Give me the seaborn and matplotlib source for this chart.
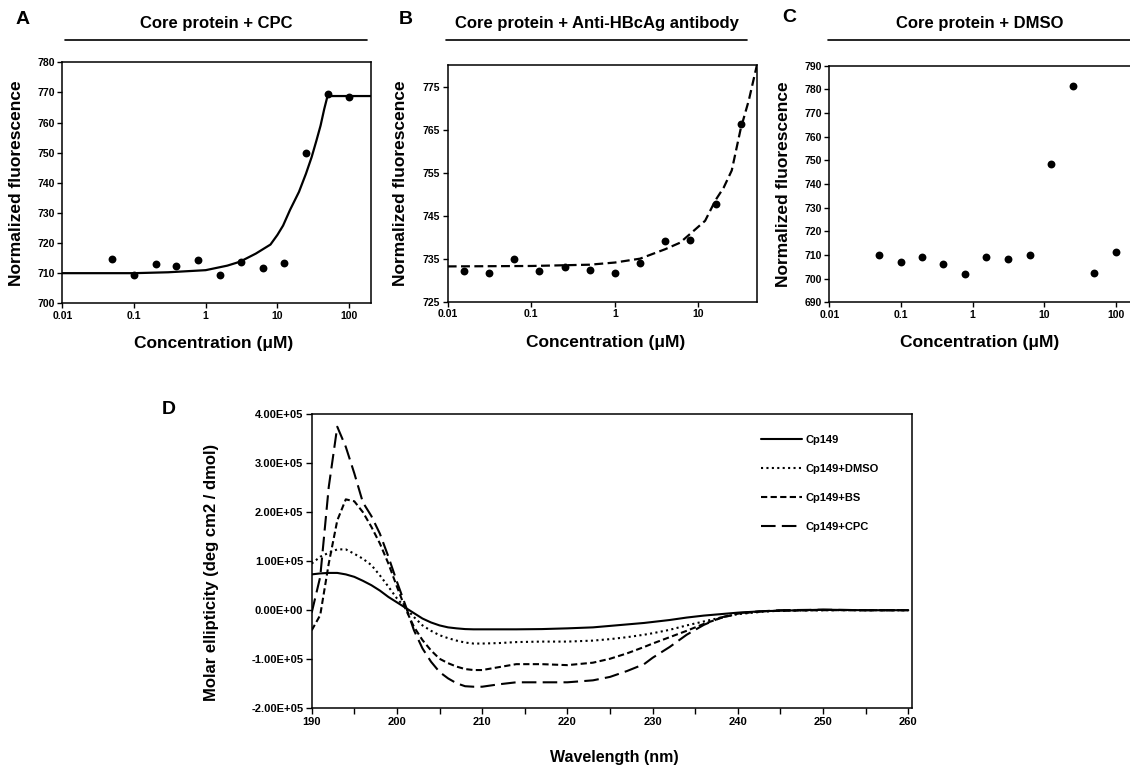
import matplotlib
matplotlib.use("Agg")
import numpy as np
import pandas as pd
import seaborn as sns
import matplotlib.pyplot as plt
from matplotlib.lines import Line2D
from matplotlib.ticker import FuncFormatter, NullLocator, FixedLocator, MultipleLocator

# ---------------- data ----------------
# Panel A: Core protein + CPC
conc_a = [0.05, 0.1, 0.2, 0.39, 0.78, 1.56, 3.125, 6.25, 12.5, 25, 50, 100]
fluo_a = [714.8, 709.3, 712.9, 712.4, 714.4, 709.5, 713.8, 711.8, 713.4, 750.0, 769.6, 768.5]
fit_a_x = [0.01, 0.1, 0.3, 1, 2, 3, 5, 8, 10, 12, 15, 20, 25, 30, 35, 40, 45, 50, 100, 200]
fit_a_y = [710.0, 710.0, 710.3, 711.0, 712.5, 713.8, 716.5, 719.5, 722.7, 725.8, 731.0, 737.0, 743.0, 748.5, 754.0, 759.0, 764.5, 768.8, 768.8, 768.8]

# Panel B: Core protein + Anti-HBcAg antibody
conc_b = [0.015625, 0.03125, 0.0625, 0.125, 0.25, 0.5, 1, 2, 4, 8, 16, 32]
fluo_b = [732.1, 731.7, 735.0, 732.1, 733.1, 732.3, 731.7, 733.9, 739.0, 739.4, 747.6, 766.3]
fit_b_x = [0.01, 0.1, 0.5, 1, 2, 4, 6, 8, 12, 16, 20, 25, 32, 40, 50]
fit_b_y = [733.2, 733.3, 733.6, 734.1, 735.0, 737.2, 738.7, 740.8, 743.8, 748.6, 751.5, 755.5, 765.2, 771.8, 780.0]

# Panel C: Core protein + DMSO
conc_c = [0.05, 0.1, 0.2, 0.39, 0.78, 1.56, 3.125, 6.25, 12.5, 25, 50, 100]
fluo_c = [709.9, 707.0, 709.3, 706.3, 702.1, 709.3, 708.2, 709.9, 748.5, 781.3, 702.4, 711.1]

# Panel D: CD spectra (x 1e5)
wavelength = [190, 191, 192, 193, 194, 195, 196, 197, 198, 199, 200, 201, 202, 203, 204, 205, 206, 207, 208, 209,
              210, 212, 214, 217, 220, 223, 225, 227, 229, 230, 232, 234, 236, 238, 240, 243, 245, 250, 255, 260]
cp149 = [0.73, 0.75, 0.76, 0.76, 0.73, 0.68, 0.60, 0.51, 0.40, 0.27, 0.16, 0.05, -0.06, -0.17, -0.25, -0.31, -0.35, -0.37, -0.385, -0.39,
         -0.39, -0.39, -0.39, -0.385, -0.37, -0.35, -0.32, -0.29, -0.26, -0.24, -0.20, -0.15, -0.11, -0.08, -0.05, -0.02, -0.01, 0.01, 0.0, 0.0]
cp149_dmso = [0.95, 1.09, 1.17, 1.24, 1.24, 1.15, 1.05, 0.92, 0.71, 0.48, 0.24, 0.05, -0.14, -0.31, -0.42, -0.51, -0.57, -0.62, -0.66, -0.68,
              -0.68, -0.67, -0.65, -0.64, -0.64, -0.62, -0.59, -0.55, -0.50, -0.47, -0.40, -0.31, -0.23, -0.15, -0.08, -0.03, -0.01, 0.0, 0.0, 0.0]
cp149_bs = [-0.41, -0.10, 0.95, 1.83, 2.26, 2.22, 2.00, 1.70, 1.36, 0.95, 0.48, 0.03, -0.34, -0.61, -0.82, -0.99, -1.08, -1.15, -1.20, -1.22,
            -1.22, -1.16, -1.10, -1.10, -1.12, -1.07, -0.99, -0.88, -0.75, -0.68, -0.55, -0.42, -0.28, -0.16, -0.07, -0.02, -0.01, 0.0, 0.0, 0.0]
cp149_cpc = [-0.05, 0.68, 2.51, 3.74, 3.33, 2.79, 2.20, 1.92, 1.56, 1.09, 0.58, 0.10, -0.41, -0.78, -1.05, -1.26, -1.39, -1.49, -1.55, -1.56,
             -1.56, -1.51, -1.47, -1.47, -1.47, -1.43, -1.36, -1.24, -1.10, -0.97, -0.75, -0.50, -0.30, -0.15, -0.06, -0.02, 0.0, 0.01, 0.0, 0.0]
series_names = ["Cp149", "Cp149+DMSO", "Cp149+BS", "Cp149+CPC"]

# ---------------- style ----------------
sns.set_theme(style="ticks")
plt.rcParams["font.family"] = ["Liberation Sans", "DejaVu Sans"]
plt.rcParams["font.weight"] = "bold"
plt.rcParams["axes.labelweight"] = "bold"
plt.rcParams["axes.linewidth"] = 1.1
plt.rcParams["xtick.direction"] = "out"
plt.rcParams["ytick.direction"] = "out"
for key in ["text.color", "axes.labelcolor", "xtick.color", "ytick.color", "axes.edgecolor"]:
    plt.rcParams[key] = "black"

W, H = 1130, 766
fig = plt.figure(figsize=(W / 100, H / 100), dpi=100)
fig.patch.set_facecolor("white")


def add_ax(l, t, r, b):
    return fig.add_axes([l / W, 1 - b / H, (r - l) / W, (b - t) / H])


def style_conc_axis(ax, xmax, ylim, yticks):
    ax.set_xscale("log")
    ax.set_xlim(0.01, xmax)
    ax.set_ylim(*ylim)
    ax.xaxis.set_major_locator(FixedLocator([0.01, 0.1, 1, 10, 100]))
    ax.xaxis.set_minor_locator(NullLocator())
    ax.xaxis.set_major_formatter(FuncFormatter(lambda v, p: "%g" % v))
    ax.set_yticks(yticks)
    ax.tick_params(axis="both", labelsize=7.5, length=3.5, width=1.0, pad=2,
                   colors="black", labelcolor="black")
    for lab in ax.get_xticklabels() + ax.get_yticklabels():
        lab.set_fontweight("bold")
    for sp in ax.spines.values():
        sp.set_visible(True)
        sp.set_linewidth(1.1)
        sp.set_color("black")
    ax.set_xlabel("Concentration (μM)", fontsize=12.5, fontweight="bold", color="black")
    ax.set_ylabel("Normalized fluorescence", fontsize=12.5, fontweight="bold", color="black")
    ax.grid(False)


# ---------------- panel A ----------------
axA = add_ax(62.3, 62.3, 371, 303.3)
sns.lineplot(x=fit_a_x, y=fit_a_y, ax=axA, color="black", lw=1.6, sort=False, errorbar=None)
sns.scatterplot(x=conc_a, y=fluo_a, ax=axA, color="black", s=32, edgecolor="black", linewidth=0, zorder=3)
style_conc_axis(axA, 202, (700, 780), list(range(700, 781, 10)))
axA.xaxis.set_label_coords(0.49, -0.136)
axA.yaxis.set_label_coords(-0.124, 0.5)

# ---------------- panel B ----------------
axB = add_ax(447.7, 65, 756.7, 301.7)
sns.lineplot(x=fit_b_x, y=fit_b_y, ax=axB, color="black", lw=1.6, sort=False, errorbar=None)
axB.lines[0].set_dashes((4, 2))
sns.scatterplot(x=conc_b, y=fluo_b, ax=axB, color="black", s=32, edgecolor="black", linewidth=0, zorder=3)
style_conc_axis(axB, 49.7, (725, 780), list(range(725, 776, 10)))
axB.xaxis.set_label_coords(0.51, -0.141)
axB.yaxis.set_label_coords(-0.128, 0.5)

# ---------------- panel C ----------------
axC = add_ax(829.3, 65.7, 1137.7, 302.3)
sns.scatterplot(x=conc_c, y=fluo_c, ax=axC, color="black", s=32, edgecolor="black", linewidth=0, zorder=3)
style_conc_axis(axC, 202, (690, 790), list(range(690, 791, 10)))
axC.xaxis.set_label_coords(0.489, -0.138)
axC.yaxis.set_label_coords(-0.124, 0.5)

# titles, rules and panel letters
for (cx, txt, x0, x1) in [(216, "Core protein + CPC", 65, 367),
                          (597, "Core protein + Anti-HBcAg antibody", 445.7, 746.7),
                          (980, "Core protein + DMSO", 828, 1135)]:
    fig.text(cx / W, 1 - 23.5 / H, txt, ha="center", va="center", fontsize=12, fontweight="bold",
             color="black")
    fig.add_artist(Line2D([x0 / W, x1 / W], [1 - 39.5 / H, 1 - 39.5 / H], transform=fig.transFigure,
                          color="black", lw=1.2))
for (lx, ly, letter) in [(23, 20, "A"), (406, 20, "B"), (789, 18, "C"), (169, 410, "D")]:
    fig.text(lx / W, 1 - ly / H, letter, ha="center", va="center", fontsize=14, fontweight="bold",
             color="black")

# ---------------- panel D ----------------
axD = add_ax(311.7, 414, 911.7, 708.3)
df = pd.DataFrame({
    "wl": wavelength * 4,
    "val": np.concatenate([cp149, cp149_dmso, cp149_bs, cp149_cpc]) * 1e5,
    "series": np.repeat(series_names, len(wavelength)),
})
dash_map = {"Cp149": "", "Cp149+DMSO": (1, 1.6), "Cp149+BS": (3, 1.6), "Cp149+CPC": (7, 3)}
sns.lineplot(data=df, x="wl", y="val", hue="series", style="series", hue_order=series_names,
             style_order=series_names, palette=["black"] * 4, dashes=dash_map, lw=1.5,
             sort=False, errorbar=None, ax=axD)
handles, labels = axD.get_legend_handles_labels()
if axD.get_legend() is not None:
    axD.get_legend().remove()
axD.set_xlim(190, 260.4)
axD.set_ylim(-2e5, 4e5)
axD.xaxis.set_major_locator(MultipleLocator(10))
axD.xaxis.set_minor_locator(MultipleLocator(5))
axD.yaxis.set_major_locator(MultipleLocator(1e5))
axD.yaxis.set_major_formatter(FuncFormatter(lambda v, p: "%.2E" % v))
axD.tick_params(axis="both", which="major", labelsize=8, length=4, width=1.0, pad=2,
                colors="black", labelcolor="black")
axD.tick_params(axis="x", which="minor", length=4, width=1.0, colors="black")
for lab in axD.get_xticklabels() + axD.get_yticklabels():
    lab.set_fontweight("bold")
for sp in axD.spines.values():
    sp.set_visible(True)
    sp.set_linewidth(1.1)
    sp.set_color("black")
axD.grid(False)
axD.set_xlabel("Wavelength (nm)", fontsize=11.5, fontweight="bold", color="black")
axD.set_ylabel("Molar ellipticity (deg cm2 / dmol)", fontsize=12, fontweight="bold", color="black")
axD.xaxis.set_label_coords(0.505, -0.142)
axD.yaxis.set_label_coords(-0.155, 0.463)
leg = axD.legend(handles, labels, loc="upper left", bbox_to_anchor=(761 / W, 1 - 435 / H),
                 bbox_transform=fig.transFigure, frameon=False, prop={"weight": "bold", "size": 8},
                 handlelength=3.7, handletextpad=0.35, labelspacing=1.72, borderpad=0, borderaxespad=0)
for t in leg.get_texts():
    t.set_color("black")

fig.savefig("out.png", dpi=100, facecolor="white")
